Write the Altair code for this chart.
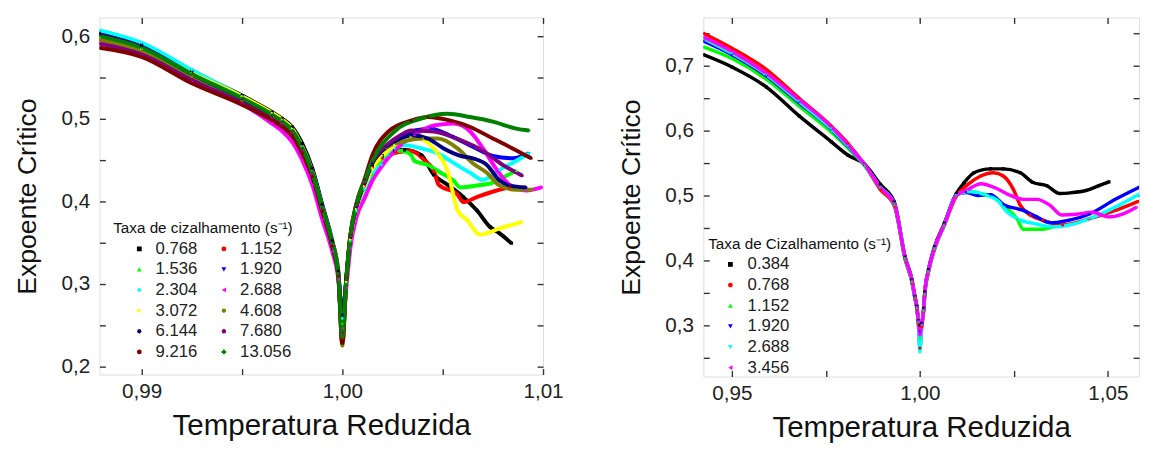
import altair as alt
import pandas as pd

FONT = "Liberation Sans"

# ---------------- LEFT PANEL ----------------
L_SERIES = ["0.768", "1.152", "1.536", "1.920", "2.304", "2.688",
            "3.072", "4.608", "6.144", "7.680", "9.216", "13.056"]
L_COLORS = ["#000000", "#ff0000", "#00ff00", "#0000ff", "#00ffff", "#ff00ff",
            "#ffff00", "#808000", "#000080", "#800080", "#800000", "#008000"]
HEX = "M0,-1L0.866,-0.5L0.866,0.5L0,1L-0.866,0.5L-0.866,-0.5Z"
PENT_D = "M0,1L0.951,0.309L0.588,-0.809L-0.588,-0.809L-0.951,0.309Z"
L_SHAPES = ["square", "circle", "triangle-up", "triangle-down", "diamond", "triangle-left",
            "triangle-right", HEX, PENT_D, HEX, "circle", "cross"]

# shared x positions of the descending branch / dip / start of rise
XL = [0.9879, 0.9900, 0.9925, 0.9950, 0.9965, 0.9970, 0.9975, 0.9980, 0.9985, 0.9990,
      0.9995, 0.9998, 1.0000, 1.0002, 1.0004, 1.0007, 1.0011, 1.0015]

L0768_Y = [0.603, 0.589, 0.557, 0.528, 0.508, 0.500, 0.490, 0.470, 0.440, 0.396, 0.352, 0.315, 0.228, 0.305, 0.356, 0.393, 0.420, 0.442]
L0768_TX = [1.0020, 1.0026, 1.0031, 1.00392, 1.00456, 1.00524, 1.00603, 1.0067, 1.00735, 1.00784, 1.00843]
L0768_TY = [0.455, 0.461, 0.462, 0.456, 0.432, 0.420, 0.405, 0.389, 0.369, 0.361, 0.349]

L1152_Y = [0.596, 0.582, 0.551, 0.522, 0.502, 0.494, 0.483, 0.462, 0.433, 0.390, 0.348, 0.311, 0.235, 0.303, 0.354, 0.392, 0.419, 0.441]
L1152_TX = [1.0020, 1.0027, 1.00343, 1.00407, 1.00456, 1.0048, 1.00574, 1.00603, 1.0067, 1.00769, 1.00833]
L1152_TY = [0.452, 0.459, 0.461, 0.450, 0.437, 0.420, 0.408, 0.399, 0.405, 0.413, 0.4167]

L1536_Y = [0.600, 0.585, 0.553, 0.524, 0.504, 0.496, 0.485, 0.464, 0.434, 0.391, 0.348, 0.311, 0.252, 0.302, 0.352, 0.388, 0.414, 0.432]
L1536_TX = [1.0023, 1.00294, 1.00343, 1.00358, 1.00426, 1.0049, 1.00554, 1.00588, 1.0067, 1.0075, 1.00818, 1.00867]
L1536_TY = [0.456, 0.461, 0.456, 0.449, 0.444, 0.4345, 0.425, 0.4167, 0.419, 0.4226, 0.431, 0.437]

L1920_Y = [0.604, 0.590, 0.558, 0.527, 0.506, 0.498, 0.487, 0.466, 0.436, 0.393, 0.349, 0.312, 0.262, 0.305, 0.356, 0.394, 0.421, 0.446]
L1920_TX = [1.0022, 1.0030, 1.0037, 1.0044, 1.0055, 1.0065, 1.0075, 1.0085, 1.0093]
L1920_TY = [0.466, 0.479, 0.486, 0.488, 0.478, 0.466, 0.455, 0.452, 0.458]

L2304_Y = [0.607, 0.592, 0.559, 0.527, 0.506, 0.498, 0.487, 0.466, 0.436, 0.393, 0.349, 0.312, 0.258, 0.303, 0.353, 0.389, 0.415, 0.435]
L2304_TX = [1.00196, 1.0026, 1.00309, 1.00392, 1.00475, 1.00554, 1.00637, 1.00701, 1.00784, 1.00867, 1.0093]
L2304_TY = [0.444, 0.464, 0.468, 0.464, 0.458, 0.4464, 0.4345, 0.426, 0.438, 0.449, 0.458]

L2688_Y = [0.592, 0.578, 0.546, 0.518, 0.494, 0.485, 0.472, 0.450, 0.420, 0.378, 0.339, 0.305, 0.246, 0.295, 0.343, 0.380, 0.403, 0.425]
L2688_TX = [1.00181, 1.0026, 1.00358, 1.00456, 1.00554, 1.00637, 1.00701, 1.0077, 1.00833, 1.00916, 1.00995]
L2688_TY = [0.437, 0.461, 0.480, 0.4917, 0.494, 0.4845, 0.464, 0.438, 0.420, 0.413, 0.417]

L3072_Y = [0.598, 0.585, 0.555, 0.527, 0.507, 0.499, 0.488, 0.466, 0.436, 0.392, 0.349, 0.312, 0.240, 0.303, 0.354, 0.391, 0.418, 0.440]
L3072_TX = [1.0020, 1.0026, 1.00343, 1.00407, 1.00475, 1.00524, 1.00574, 1.00622, 1.00686, 1.00784, 1.00897]
L3072_TY = [0.455, 0.468, 0.4786, 0.474, 0.458, 0.437, 0.389, 0.377, 0.3595, 0.367, 0.375]

L4608_Y = [0.596, 0.582, 0.551, 0.522, 0.503, 0.495, 0.484, 0.463, 0.434, 0.391, 0.348, 0.311, 0.225, 0.306, 0.357, 0.394, 0.422, 0.447]
L4608_TX = [1.0022, 1.0030, 1.0040, 1.00475, 1.00574, 1.0065, 1.0072, 1.00784, 1.00867, 1.00946]
L4608_TY = [0.465, 0.472, 0.476, 0.476, 0.464, 0.446, 0.4345, 0.419, 0.414, 0.414]

L6144_Y = [0.602, 0.587, 0.554, 0.524, 0.504, 0.496, 0.485, 0.464, 0.435, 0.392, 0.349, 0.312, 0.262, 0.305, 0.356, 0.393, 0.421, 0.446]
L6144_TX = [1.0022, 1.0029, 1.00343, 1.00426, 1.00505, 1.00588, 1.0065, 1.0072, 1.00784, 1.00833, 1.00916]
L6144_TY = [0.466, 0.476, 0.480, 0.476, 0.464, 0.455, 0.452, 0.444, 0.425, 0.419, 0.4167]

L7680_Y = [0.591, 0.578, 0.547, 0.519, 0.500, 0.492, 0.481, 0.460, 0.431, 0.389, 0.346, 0.310, 0.240, 0.306, 0.357, 0.394, 0.422, 0.448]
L7680_TX = [1.0022, 1.0029, 1.00343, 1.00456, 1.00588, 1.00701, 1.00799, 1.00897]
L7680_TY = [0.468, 0.480, 0.4857, 0.4845, 0.474, 0.461, 0.444, 0.431]

L9216_Y = [0.586, 0.575, 0.543, 0.517, 0.498, 0.490, 0.479, 0.458, 0.430, 0.388, 0.346, 0.310, 0.228, 0.307, 0.359, 0.397, 0.426, 0.456]
L9216_TX = [1.0023, 1.00343, 1.00426, 1.00539, 1.00637, 1.0075, 1.00848, 1.00941]
L9216_TY = [0.4845, 0.4976, 0.502, 0.4976, 0.490, 0.476, 0.464, 0.452]

L13056_Y = [0.600, 0.586, 0.554, 0.525, 0.505, 0.497, 0.486, 0.465, 0.435, 0.392, 0.349, 0.312, 0.235, 0.306, 0.358, 0.396, 0.424, 0.449]
L13056_TX = [1.0026, 1.00392, 1.00524, 1.00637, 1.0075, 1.00867, 1.0093]
L13056_TY = [0.4845, 0.500, 0.506, 0.502, 0.4964, 0.488, 0.4857]

L_HEADS = [L0768_Y, L1152_Y, L1536_Y, L1920_Y, L2304_Y, L2688_Y, L3072_Y, L4608_Y, L6144_Y, L7680_Y, L9216_Y, L13056_Y]
L_TX = [L0768_TX, L1152_TX, L1536_TX, L1920_TX, L2304_TX, L2688_TX, L3072_TX, L4608_TX, L6144_TX, L7680_TX, L9216_TX, L13056_TX]
L_TY = [L0768_TY, L1152_TY, L1536_TY, L1920_TY, L2304_TY, L2688_TY, L3072_TY, L4608_TY, L6144_TY, L7680_TY, L9216_TY, L13056_TY]

# ---------------- RIGHT PANEL ----------------
R_SERIES = ["0.384", "0.768", "1.152", "1.920", "2.688", "3.456"]
R_COLORS = ["#000000", "#ff0000", "#00ff00", "#0000ff", "#00ffff", "#ff00ff"]
R_SHAPES = ["square", "circle", "triangle-up", "triangle-down", "triangle-down", "triangle-left"]

XR = [0.9424, 0.9500, 0.9592, 0.9678, 0.9764, 0.9809, 0.9853, 0.9895, 0.9932, 0.9961, 0.9979,
      0.9987, 0.9992, 0.9996, 1.0000, 1.0005, 1.0010, 1.0013, 1.0023, 1.0039, 1.0065, 1.0097]

R0384_Y = [0.717, 0.698, 0.667, 0.623, 0.583, 0.562, 0.548, 0.517, 0.490, 0.405, 0.370, 0.344, 0.329, 0.307, 0.300, 0.303, 0.326, 0.351, 0.386, 0.421, 0.457, 0.503]
R0384_TX = [1.0118, 1.0144, 1.0188, 1.0222, 1.0267, 1.0301, 1.0338, 1.0372, 1.0406, 1.0442, 1.0476, 1.0503]
R0384_TY = [0.5197, 0.535, 0.541, 0.541, 0.535, 0.520, 0.515, 0.503, 0.5045, 0.5076, 0.515, 0.521]

R0768_Y = [0.750, 0.727, 0.694, 0.650, 0.607, 0.580, 0.547, 0.509, 0.484, 0.401, 0.366, 0.341, 0.326, 0.303, 0.265, 0.298, 0.322, 0.347, 0.382, 0.417, 0.454, 0.499]
R0768_TX = [1.0128, 1.0162, 1.0196, 1.0222, 1.0249, 1.0267, 1.0293, 1.0327, 1.0380, 1.0450, 1.0520, 1.0581]
R0768_TY = [0.517, 0.530, 0.535, 0.530, 0.509, 0.485, 0.470, 0.462, 0.4545, 0.464, 0.477, 0.491]

R1152_Y = [0.729, 0.711, 0.679, 0.638, 0.598, 0.573, 0.546, 0.512, 0.486, 0.402, 0.367, 0.342, 0.327, 0.306, 0.280, 0.302, 0.323, 0.348, 0.383, 0.418, 0.454, 0.500]
R1152_TX = [1.0128, 1.0170, 1.0207, 1.0222, 1.0259, 1.0275, 1.0327, 1.0353]
R1152_TY = [0.507, 0.502, 0.494, 0.485, 0.4636, 0.448, 0.448, 0.452]

R1920_Y = [0.738, 0.717, 0.684, 0.643, 0.602, 0.575, 0.547, 0.513, 0.487, 0.403, 0.368, 0.342, 0.327, 0.306, 0.290, 0.302, 0.324, 0.349, 0.384, 0.419, 0.455, 0.501]
R1920_TX = [1.0123, 1.0154, 1.0188, 1.0222, 1.0275, 1.0311, 1.0346, 1.0398, 1.0450, 1.0520, 1.0599]
R1920_TY = [0.5045, 0.500, 0.501, 0.486, 0.477, 0.467, 0.458, 0.462, 0.471, 0.494, 0.517]

R2688_Y = [0.742, 0.719, 0.686, 0.645, 0.603, 0.576, 0.547, 0.513, 0.487, 0.403, 0.368, 0.342, 0.327, 0.305, 0.259, 0.300, 0.323, 0.348, 0.383, 0.418, 0.4545, 0.500]
R2688_TX = [1.0128, 1.0170, 1.0207, 1.0233, 1.0267, 1.0311, 1.0353, 1.0398, 1.0450, 1.0520, 1.0599]
R2688_TY = [0.506, 0.5015, 0.492, 0.474, 0.462, 0.456, 0.4515, 0.4545, 0.464, 0.482, 0.507]

R3456_Y = [0.744, 0.722, 0.688, 0.648, 0.606, 0.578, 0.548, 0.512, 0.487, 0.404, 0.369, 0.343, 0.328, 0.306, 0.285, 0.301, 0.324, 0.349, 0.384, 0.419, 0.455, 0.500]
R3456_TX = [1.0128, 1.0162, 1.0207, 1.0241, 1.0275, 1.0311, 1.0346, 1.0377, 1.0416, 1.0458, 1.0503, 1.0537, 1.0576]
R3456_TY = [0.509, 0.518, 0.510, 0.500, 0.494, 0.494, 0.485, 0.470, 0.471, 0.474, 0.467, 0.471, 0.482]

R_HEADS = [R0384_Y, R0768_Y, R1152_Y, R1920_Y, R2688_Y, R3456_Y]
R_TX = [R0384_TX, R0768_TX, R1152_TX, R1920_TX, R2688_TX, R3456_TX]
R_TY = [R0384_TY, R0768_TY, R1152_TY, R1920_TY, R2688_TY, R3456_TY]


def build(names, xhead, heads, txs, tys):
    rows = []
    for k, name in enumerate(names):
        for x, y in zip(xhead, heads[k]):
            rows.append({"x": x, "y": y, "s": name, "k": k})
        for x, y in zip(txs[k], tys[k]):
            rows.append({"x": x, "y": y, "s": name, "k": k})
    return pd.DataFrame(rows)


def panel(df, names, colors, shapes, xdom, ydom, xticks, xmajor, yticks, ymajor,
          w, h, ltitle, lx, ly, cols, loff, lab_off, coff, sw):
    xs = alt.Scale(domain=xdom, nice=False, zero=False)
    ys = alt.Scale(domain=ydom, nice=False, zero=False)
    xm = " || ".join("datum.value == %s" % v for v in xmajor)
    ym = " || ".join("datum.value == %s" % v for v in ymajor)
    xlabel = "(%s) ? replace(format(datum.value, '.2f'), '.', ',') : ''" % xm
    ylabel = "(%s) ? replace(format(datum.value, '.1f'), '.', ',') : ''" % ym
    common = dict(domain=False, tickSize=6, offset=-6, tickColor="#333333", tickWidth=1.4,
                  labelFont=FONT, labelFontSize=21, labelColor="#222222",
                  titleFont=FONT, titleFontWeight="normal", titleColor="#111111",
                  labelFlush=False, labelOverlap=False, grid=False)
    legkw = dict(title=ltitle, orient="none", legendX=lx, legendY=ly, columns=cols,
                 titleFont=FONT, titleFontSize=15.5, titleFontWeight="normal", titleColor="#111111",
                 titleLimit=500, labelLimit=200,
                 labelFont=FONT, labelFontSize=17, labelColor="#222222",
                 symbolSize=24, symbolStrokeWidth=0, symbolOffset=loff, labelOffset=lab_off,
                 rowPadding=3, columnPadding=coff, titlePadding=4, padding=0)
    if cols > 1:
        legkw["direction"] = "horizontal"
    leg = alt.Legend(**legkw)
    cscale = alt.Scale(domain=names, range=colors)
    base = alt.Chart(df)
    lines = base.mark_line(strokeWidth=sw, clip=True, interpolate="monotone").encode(
        x=alt.X("x:Q", scale=xs, axis=alt.Axis(values=xticks, labelExpr=xlabel,
                                                 title="Temperatura Reduzida", titleFontSize=30,
                                                 labelPadding=6, titlePadding=10, **common)),
        y=alt.Y("y:Q", scale=ys, axis=alt.Axis(values=yticks, labelExpr=ylabel,
                                                 title="Expoente Crítico", titleFontSize=27,
                                                 labelPadding=10, titlePadding=20, **common)),
        color=alt.Color("s:N", scale=cscale, legend=None),
        order=alt.Order("x:Q"),
    )
    pts = base.mark_point(filled=True, size=10, clip=True, opacity=1).encode(
        x=alt.X("x:Q", scale=xs, axis=alt.Axis(orient="top", values=xticks, labels=False,
                                                 title=None, domain=False, tickSize=6, offset=-6,
                                                 tickColor="#333333", tickWidth=1.4, grid=False)),
        y=alt.Y("y:Q", scale=ys, axis=alt.Axis(orient="right", values=yticks, labels=False,
                                                 title=None, domain=False, tickSize=6, offset=-6,
                                                 tickColor="#333333", tickWidth=1.4, grid=False)),
        color=alt.Color("s:N", scale=cscale, legend=leg),
        shape=alt.Shape("s:N", scale=alt.Scale(domain=names, range=shapes), legend=leg),
    )
    return (alt.layer(lines, pts)
            .resolve_axis(x="independent", y="independent")
            .resolve_legend(color="independent", shape="independent")
            .properties(width=w, height=h))


df_left = build(L_SERIES, XL, L_HEADS, L_TX, L_TY)
df_right = build(R_SERIES, XR, R_HEADS, R_TX, R_TY)

left = panel(df_left, L_SERIES, L_COLORS, L_SHAPES,
             [0.9879, 1.0100], [0.19, 0.6226],
             [0.99, 0.995, 1.0, 1.005, 1.01], [0.99, 1, 1.01],
             [0.2, 0.25, 0.3, 0.35, 0.4, 0.45, 0.5, 0.55, 0.6], [0.2, 0.3, 0.4, 0.5, 0.6],
             451, 363, "Taxa de cizalhamento (s⁻¹)", 14, 207, 2, 18, 8, 0, 4)

right = panel(df_right, R_SERIES, R_COLORS, R_SHAPES,
              [0.9424, 1.0583], [0.221, 0.7742],
              [0.95, 0.975, 1.0, 1.025, 1.05], [0.95, 1, 1.05],
              [0.25, 0.3, 0.35, 0.4, 0.45, 0.5, 0.55, 0.6, 0.65, 0.7, 0.75], [0.3, 0.4, 0.5, 0.6, 0.7],
              443, 365, "Taxa de Cizalhamento (s⁻¹)", 5, 223, 1, 14, 9, 10, 3.5)

chart = (alt.hconcat(left, right, spacing=54)
         .resolve_scale(color="independent", shape="independent", x="independent", y="independent")
         .resolve_legend(color="independent", shape="independent")
         .properties(padding={"left": 5, "top": 4, "right": 0, "bottom": 0})
         .configure_view(stroke="#333333", strokeWidth=2)
         .configure(font=FONT))

chart.save("out.html", embed_options={"renderer": "svg", "actions": False})
